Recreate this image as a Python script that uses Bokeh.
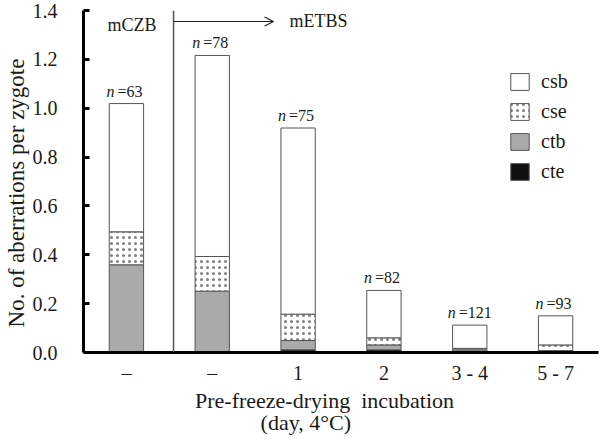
from bokeh.plotting import figure
from bokeh.models import (ColumnDataSource, FixedTicker, PrintfTickFormatter, Span,
                          Arrow, OpenHead, Label, Legend, LegendItem, LinearAxis)
from bokeh.transform import stack
from bokeh.embed import file_html
from bokeh.resources import INLINE
from bokeh.core.properties import value

# ---- data ----
groups = ["g1", "g2", "g3", "g4", "g5", "g6"]
tick_labels = ["\u2013", "\u2013", "1", "2", "3 - 4", "5 - 7"]
n_values = ["63", "78", "75", "82", "121", "93"]
cte = [0.0, 0.0, 0.011, 0.011, 0.005, 0.004]
ctb = [0.359, 0.251, 0.038, 0.020, 0.006, 0.004]
cse = [0.135, 0.142, 0.108, 0.029, 0.006, 0.023]
csb = [0.525, 0.823, 0.762, 0.194, 0.095, 0.119]
medium_left = "mCZB"
medium_right = "mETBS"
y_ticks = [0, 0.2, 0.4, 0.6, 0.8, 1.0, 1.2, 1.4]

xpos = list(range(len(groups)))
totals = [a + b + c + d for a, b, c, d in zip(cte, ctb, cse, csb)]

FONT = "Liberation Serif"
OUT = "#555555"
TXT = "#1a1a1a"

noff = [-(16 + 2 * len(v)) for v in n_values]
src = ColumnDataSource(dict(x=xpos, cte=cte, ctb=ctb, cse=cse, csb=csb, total=totals,
                            n=["n"] * len(groups), nval=["=" + v for v in n_values],
                            noff=noff, noff2=[o + 11 for o in noff]))

p = figure(width=600, height=440, output_backend="svg", toolbar_location=None,
           x_range=(-0.5, 5.5), y_range=(0, 1.4),
           min_border_left=83, min_border_right=2, min_border_top=10, min_border_bottom=88)
p.outline_line_color = None
p.grid.grid_line_color = None
p.background_fill_color = "white"

w = 0.4
r_cte = p.vbar(x="x", bottom=0, top="cte", width=w, source=src,
               fill_color="#111111", line_color=OUT, line_width=1)
r_ctb = p.vbar(x="x", bottom=stack("cte"), top=stack("cte", "ctb"), width=w, source=src,
               fill_color="#aaaaaa", line_color=OUT, line_width=1)
r_cse = p.vbar(x="x", bottom=stack("cte", "ctb"), top=stack("cte", "ctb", "cse"), width=w,
               source=src, fill_color="white", line_color=OUT, line_width=1,
               hatch_pattern="dot", hatch_color="#808080", hatch_scale=6, hatch_weight=1.2)
r_csb = p.vbar(x="x", bottom=stack("cte", "ctb", "cse"), top=stack("cte", "ctb", "cse", "csb"),
               width=w, source=src, fill_color="white", line_color=OUT, line_width=1)

# n labels
p.text(x="x", y="total", text="n", source=src, text_font=value(FONT), text_font_style="italic",
       text_font_size="16px", text_align="left", text_baseline="bottom",
       x_offset="noff", y_offset=-4, text_color=TXT)
p.text(x="x", y="total", text="nval", source=src, text_font=value(FONT),
       text_font_size="16px", text_align="left", text_baseline="bottom",
       x_offset="noff2", y_offset=-4, text_color=TXT)

# divider and arrow
p.add_layout(Span(location=0.549, dimension="height", line_color=OUT, line_width=1.5))
p.add_layout(Arrow(end=OpenHead(size=9, line_color="#222222", line_width=1.2),
                   x_start=0.549, x_end=1.714, y_start=1.355, y_end=1.355,
                   line_color="#222222", line_width=1.2))
p.add_layout(Label(x=0.065, y=1.34, text=medium_left, text_font=FONT, text_font_size="18px",
                   text_align="center", text_baseline="middle", text_color=TXT))
p.add_layout(Label(x=1.9, y=1.355, text=medium_right, text_font=FONT, text_font_size="18px",
                   text_align="left", text_baseline="middle", text_color=TXT))

# axes
p.yaxis.ticker = FixedTicker(ticks=y_ticks)
p.yaxis.formatter = PrintfTickFormatter(format="%.1f")
p.yaxis.major_tick_in = 6
p.yaxis.major_tick_out = 0
p.yaxis.minor_tick_line_color = None
p.yaxis.major_tick_line_width = 3
p.yaxis.axis_line_width = 3
p.yaxis.major_label_standoff = 26
p.yaxis.major_label_text_font = FONT
p.yaxis.major_label_text_font_size = "20px"
p.yaxis.major_label_text_color = TXT
p.yaxis.axis_label = "No. of aberrations per zygote\u2003"
p.yaxis.axis_label_text_font = FONT
p.yaxis.axis_label_text_font_size = "23px"
p.yaxis.axis_label_text_font_style = "normal"
p.yaxis.axis_label_text_color = TXT
p.yaxis.axis_label_standoff = 1

p.xaxis.ticker = FixedTicker(ticks=xpos)
p.xaxis.major_label_overrides = {i: t for i, t in zip(xpos, tick_labels)}
p.xaxis.major_tick_line_color = None
p.xaxis.minor_tick_line_color = None
p.xaxis.axis_line_width = 3
p.xaxis.major_label_standoff = 3
p.xaxis.major_label_text_font = FONT
p.xaxis.major_label_text_font_size = "20px"
p.xaxis.major_label_text_color = TXT
p.xaxis.axis_label = "Pre-freeze-drying\u00a0 incubation\u2003\u2002"
p.xaxis.axis_label_text_font = FONT
p.xaxis.axis_label_text_font_size = "22px"
p.xaxis.axis_label_text_font_style = "normal"
p.xaxis.axis_label_text_color = TXT
p.xaxis.axis_label_standoff = 1

# second line of the x-axis title
ax2 = LinearAxis(ticker=FixedTicker(ticks=[]), axis_line_color=None,
                 major_tick_line_color=None, minor_tick_line_color=None,
                 major_label_standoff=0, major_tick_out=0, minor_tick_out=0,
                 axis_label="(day, 4\u00b0C)\u2003\u2003\u2003\u2009",
                 axis_label_text_font=FONT, axis_label_text_font_size="22px",
                 axis_label_text_font_style="normal", axis_label_text_color=TXT,
                 axis_label_standoff=-6)
p.add_layout(ax2, "below")

legend = Legend(items=[LegendItem(label="csb", renderers=[r_csb]),
                       LegendItem(label="cse", renderers=[r_cse]),
                       LegendItem(label="ctb", renderers=[r_ctb]),
                       LegendItem(label="cte", renderers=[r_cte])],
                location=(425, 169), border_line_color=None, background_fill_alpha=0,
                padding=0, margin=0, spacing=7, glyph_width=23, glyph_height=21,
                label_height=21, label_standoff=10, label_text_font=FONT,
                label_text_font_size="20px", label_text_color=TXT)
p.add_layout(legend)

open("out.html", "w").write(file_html(p, INLINE))
